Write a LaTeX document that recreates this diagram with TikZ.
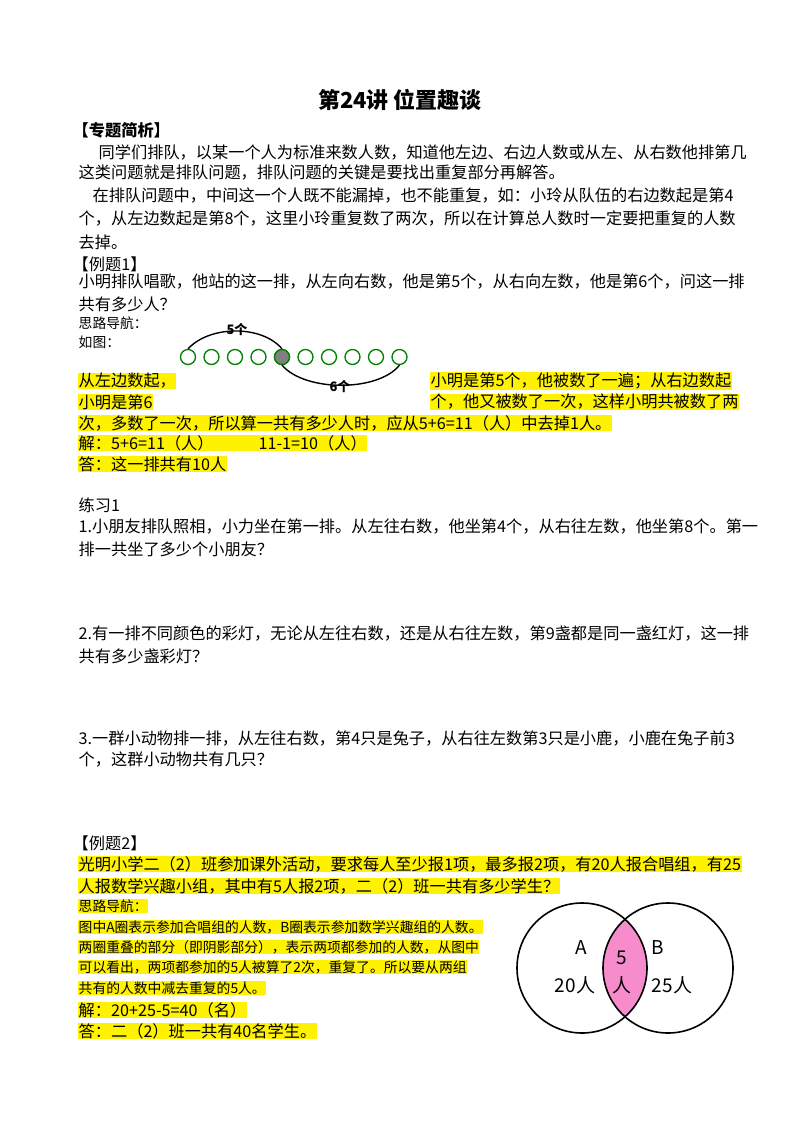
\documentclass[tikz,border=0pt]{standalone}
\usepackage{fontspec}
\setmainfont{Noto Sans CJK SC}
\begin{document}
\begin{tikzpicture}[x=1pt,y=-1pt,
  t/.style={anchor=west,inner sep=0.5pt,font=\fontsize{16.2}{17}\selectfont},
  s/.style={anchor=west,inner sep=0.5pt,font=\fontsize{13.8}{14}\selectfont},
  hl/.style={fill=yellow},
  bead/.style={circle,draw=green!50!black,line width=1.3pt,minimum size=15pt,inner sep=0pt}]
\useasboundingbox (0,0) rectangle (800,1132);
\fill[white] (0,0) rectangle (800,1132);
\node[font=\fontsize{22}{23}\selectfont\bfseries] (title) at (400,100) {第24讲\ 位置趣谈};
\node[t] (a1) at (72,130) {\textbf{【专题简析】}};
\node[t] (a2) at (98,152) {同学们排队，以某一个人为标准来数人数，知道他左边、右边人数或从左、从右数他排第几};
\node[t] (a3) at (78,173) {这类问题就是排队问题，排队问题的关键是要找出重复部分再解答。};
\node[t] (a4) at (92,196) {在排队问题中，中间这一个人既不能漏掉，也不能重复，如：小玲从队伍的右边数起是第4};
\node[t] (a5) at (78,219) {个，从左边数起是第8个，这里小玲重复数了两次，所以在计算总人数时一定要把重复的人数};
\node[t] (a6) at (78,242) {去掉。};
\node[t] (a7) at (72,264) {【例题1】};
\node[t] (a8) at (78,282) {小明排队唱歌，他站的这一排，从左向右数，他是第5个，从右向左数，他是第6个，问这一排};
\node[t] (a9) at (78,304) {共有多少人？};
\node[s] (a10) at (78,323) {思路导航：};
\node[s] (a11) at (78,342) {如图：};
\foreach \i in {0,...,9} {\node[bead] (b\i) at (188+23.5*\i,357) {};}
\node[bead,fill=gray] at (b4) {};
\draw[line width=1.4pt] (b0.north) .. controls (210,325) and (262,325) .. (b4.north);
\draw[line width=1.4pt] (b4.south) .. controls (305,392) and (378,392) .. (b9.south);
\node[font=\fontsize{13}{13}\selectfont\bfseries] (l5) at (237,330) {5个};
\node[font=\fontsize{13}{13}\selectfont\bfseries] (l6) at (340,387) {6个};
\node[t,hl] (h1) at (78,381) {从左边数起，};
\node[t,hl] (h2) at (430,381) {小明是第5个，他被数了一遍；从右边数起};
\node[t,hl] (h3) at (78,402) {小明是第6};
\node[t,hl] (h4) at (430,402) {个，他又被数了一次，这样小明共被数了两};
\node[t,hl] (h5) at (78,423) {次，多数了一次，所以算一共有多少人时，应从5+6=11（人）中去掉1人。};
\node[t,hl] (h6) at (78,443) {解：5+6=11（人）\hspace{45pt}11-1=10（人）};
\node[t,hl] (h7) at (78,464) {答：这一排共有10人};
\node[t] (p0) at (78,505) {练习1};
\node[t] (p1) at (78,527) {1.小朋友排队照相，小力坐在第一排。从左往右数，他坐第4个，从右往左数，他坐第8个。第一};
\node[t] (p2) at (78,549) {排一共坐了多少个小朋友？};
\node[t] (p3) at (78,634) {2.有一排不同颜色的彩灯，无论从左往右数，还是从右往左数，第9盏都是同一盏红灯，这一排};
\node[t] (p4) at (78,656) {共有多少盏彩灯？};
\node[t] (p5) at (78,739) {3.一群小动物排一排，从左往右数，第4只是兔子，从右往左数第3只是小鹿，小鹿在兔子前3};
\node[t] (p6) at (78,760) {个，这群小动物共有几只？};
\node[t] (e0) at (72,843) {【例题2】};
\node[t,hl] (e1) at (78,864) {光明小学二（2）班参加课外活动，要求每人至少报1项，最多报2项，有20人报合唱组，有25};
\node[t,hl] (e2) at (78,886) {人报数学兴趣小组，其中有5人报2项，二（2）班一共有多少学生？};
\node[s,hl] (e3) at (78,906) {思路导航：};
\node[s,hl] (e4) at (78,927) {图中A圈表示参加合唱组的人数，B圈表示参加数学兴趣组的人数。};
\node[s,hl] (e5) at (78,947) {两圈重叠的部分（即阴影部分），表示两项都参加的人数，从图中};
\node[s,hl] (e6) at (78,967) {可以看出，两项都参加的5人被算了2次，重复了。所以要从两组};
\node[s,hl] (e7) at (78,988) {共有的人数中减去重复的5人。};
\node[t,hl] (e8) at (78,1010) {解：20+25-5=40（名）};
\node[t,hl] (e9) at (78,1031) {答：二（2）班一共有40名学生。};
\begin{scope}
\clip (582,968) circle (65);
\fill[magenta!45] (668,968) circle (65);
\end{scope}
\draw[line width=1.6pt] (582,968) circle (65);
\draw[line width=1.6pt] (668,968) circle (65);
\tikzset{v/.style={font=\fontsize{19}{19}\selectfont}}
\node[v] (vA) at (581,948) {A};
\node[v] (v20) at (575,985) {20人};
\node[v] (v5) at (622,958) {5};
\node[v] (vr) at (622,985) {人};
\node[v] (vB) at (658,948) {B};
\node[v] (v25) at (672,985) {25人};
\end{tikzpicture}
\end{document}
